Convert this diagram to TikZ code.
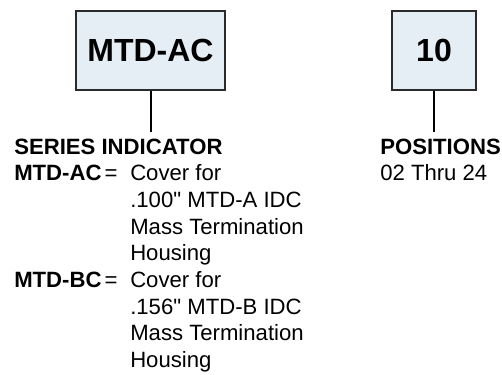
\documentclass[tikz,border=0pt]{standalone}
\usepackage{fontspec}
\setmainfont{Liberation Sans}
\newfontfamily\helv{Liberation Sans}
\usepackage{xcolor}
\usetikzlibrary{positioning, calc}

\definecolor{boxfill}{HTML}{E6EEF5}
\definecolor{boxline}{HTML}{2A2A2A}

\tikzset{
  codebox/.style={draw=boxline, line width=1pt, fill=boxfill, inner sep=0pt,
    font=\helv\fontsize{24}{28}\selectfont\bfseries},
  txt/.style={anchor=base west, inner sep=0pt, font=\helv\fontsize{16.6}{20}\selectfont},
  boldtxt/.style={txt, font=\helv\fontsize{16.6}{20}\selectfont\bfseries},
  eqsign/.style={anchor=base, inner sep=0pt, font=\helv\fontsize{16.6}{20}\selectfont},
  stem/.style={line width=1.5pt, black}
}

\begin{document}
\begin{tikzpicture}[x=0.75pt, y=-0.75pt]
\useasboundingbox (0,0) rectangle (502,374);

% Code boxes
\node[codebox, minimum width=149*0.75pt, minimum height=79*0.75pt] (series) at (150.5,50.5) {MTD-AC};
\node[codebox, minimum width=84*0.75pt, minimum height=79*0.75pt] (pos) at (434,50.5) {10};

% Stems
\coordinate (seriesend) at (150.5,132);
\coordinate (posend) at (434,132);
\draw[stem] (series) -- (seriesend);
\draw[stem] (pos) -- (posend);

% Series indicator
\node[boldtxt] (seriestitle) at (14,154) {SERIES INDICATOR};
\node[boldtxt] (aclabel) at (14,180.7) {MTD-AC};
\node[eqsign] (aceq) at (111,180.7) {=};
\node[txt] (ac1) at (130,180.7) {Cover for};
\node[txt] (ac2) at (130,207.4) {.100" MTD-A IDC};
\node[txt] (ac3) at (130,234.1) {Mass Termination};
\node[txt] (ac4) at (130,260.8) {Housing};

\node[boldtxt] (bclabel) at (14,287.5) {MTD-BC};
\node[eqsign] (bceq) at (111,287.5) {=};
\node[txt] (bc1) at (130,287.5) {Cover for};
\node[txt] (bc2) at (130,314.2) {.156" MTD-B IDC};
\node[txt] (bc3) at (130,340.9) {Mass Termination};
\node[txt] (bc4) at (130,367.6) {Housing};

% Positions
\node[boldtxt] (postitle) at (380,154) {POSITIONS};
\node[txt] (posrange) at (380,180.7) {02 Thru 24};
\end{tikzpicture}
\end{document}
